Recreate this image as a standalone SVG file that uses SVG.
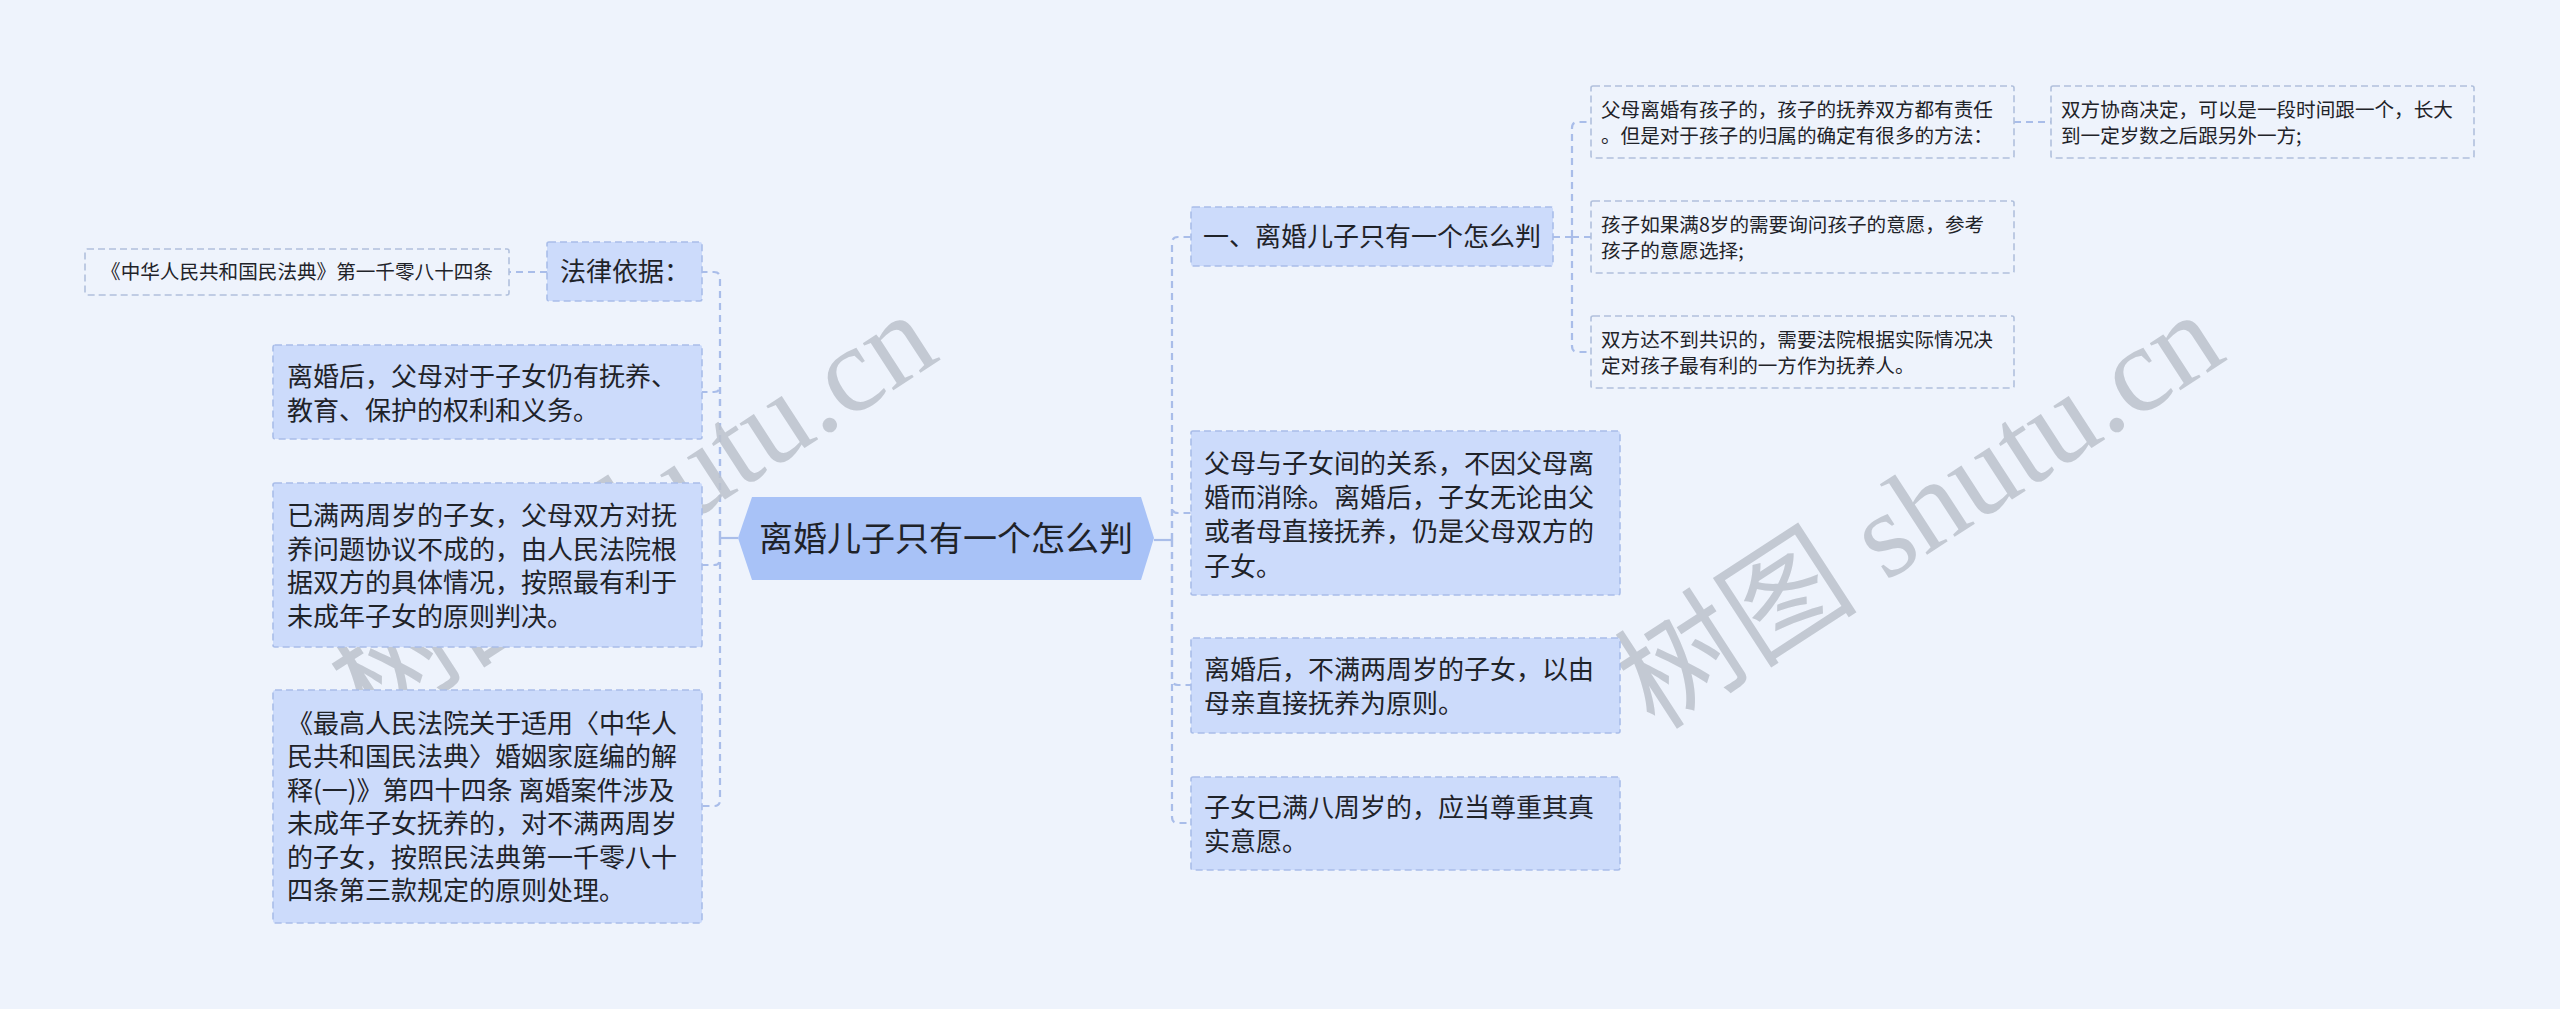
<svg xmlns="http://www.w3.org/2000/svg" width="2560" height="1009" viewBox="0 0 2560 1009">
<style>
.t{font-family:"Noto Sans CJK SC","Noto Sans",sans-serif;fill:#1f2329}
.m{font-size:26px}
.s{font-size:19.6px}
.box{fill:#ccdbfb;stroke:#a9bde9;stroke-width:1.6;stroke-dasharray:7 4}
.leaf{fill:none;stroke:#b1c0dc;stroke-width:1.6;stroke-dasharray:7 4}
.cn{fill:none;stroke:#a9bde9;stroke-width:2.2;stroke-dasharray:7 5}
.sol{fill:none;stroke:#a9bde9;stroke-width:2.2}
.wm{font-family:"Liberation Serif","Noto Sans CJK SC",serif;font-size:122px;fill:#bcc2cc;opacity:0.85}
</style>
<rect width="2560" height="1009" fill="#eef3fc"/>

<g id="connectors">
  <path class="sol" d="M738 538 H720"/>
  <path class="cn" d="M720 538 V278 Q720 272 714 272 H702"/>
  <path class="cn" d="M720 538 V386 Q720 392 714 392 H702"/>
  <path class="cn" d="M720 538 V559 Q720 565 714 565 H702"/>
  <path class="cn" d="M720 538 V800 Q720 806 714 806 H702"/>
  <path class="cn" d="M547 272 H509"/>
  <path class="sol" d="M1154 540 H1172"/>
  <path class="cn" d="M1172 540 V243 Q1172 237 1178 237 H1191"/>
  <path class="cn" d="M1172 540 V507 Q1172 513 1178 513 H1191"/>
  <path class="cn" d="M1172 540 V679 Q1172 685 1178 685 H1191"/>
  <path class="cn" d="M1172 540 V817 Q1172 823 1178 823 H1191"/>
  <path class="cn" d="M1553 237 H1572"/>
  <path class="cn" d="M1572 237 V128 Q1572 122 1578 122 H1591"/>
  <path class="cn" d="M1572 237 H1591"/>
  <path class="cn" d="M1572 237 V346 Q1572 352 1578 352 H1591"/>
  <path class="cn" d="M2014 122 H2051"/>
</g>

<g id="watermark">
  <text class="wm" text-anchor="middle" transform="translate(655 545) rotate(-33)">树图 shutu.cn</text>
  <text class="wm" text-anchor="middle" transform="translate(1942 545) rotate(-33)">树图 shutu.cn</text>
</g>

<g id="root">
  <polygon points="738,538 752,497 1141,497 1154,538 1141,580 752,580" fill="#a8c2f7"/>
  <text class="t" x="946" y="551" font-size="34" text-anchor="middle">离婚儿子只有一个怎么判</text>
</g>

<g id="law-basis">
  <rect class="box" x="547" y="242" width="155" height="59" rx="2"/>
  <text class="t m" x="560" y="281">法律依据：</text>
</g>
<g id="law-civil-code">
  <rect class="leaf" x="85" y="249" width="424" height="46" rx="2"/>
  <text class="t s" x="297" y="279" text-anchor="middle">《中华人民共和国民法典》第一千零八十四条</text>
</g>

<g id="left-1">
  <rect class="box" x="273" y="345" width="429" height="94" rx="2"/>
  <text class="t m" x="287"><tspan x="287" y="386">离婚后，父母对于子女仍有抚养、</tspan><tspan x="287" y="420">教育、保护的权利和义务。</tspan></text>
</g>
<g id="left-2">
  <rect class="box" x="273" y="483" width="429" height="164" rx="2"/>
  <text class="t m"><tspan x="287" y="525">已满两周岁的子女，父母双方对抚</tspan><tspan x="287" y="558.5">养问题协议不成的，由人民法院根</tspan><tspan x="287" y="592">据双方的具体情况，按照最有利于</tspan><tspan x="287" y="625.5">未成年子女的原则判决。</tspan></text>
</g>
<g id="left-3">
  <rect class="box" x="273" y="690" width="429" height="233" rx="2"/>
  <text class="t m"><tspan x="287" y="732.5">《最高人民法院关于适用〈中华人</tspan><tspan x="287" y="766">民共和国民法典〉婚姻家庭编的解</tspan><tspan x="287" y="799.5">释(一)》第四十四条 离婚案件涉及</tspan><tspan x="287" y="833">未成年子女抚养的，对不满两周岁</tspan><tspan x="287" y="866.5">的子女，按照民法典第一千零八十</tspan><tspan x="287" y="900">四条第三款规定的原则处理。</tspan></text>
</g>

<g id="right-1">
  <rect class="box" x="1191" y="207" width="362" height="59" rx="2"/>
  <text class="t m" x="1203" y="246">一、离婚儿子只有一个怎么判</text>
</g>
<g id="right-1-a">
  <rect class="leaf" x="1591" y="86" width="423" height="72" rx="2"/>
  <text class="t s"><tspan x="1601" y="116.5">父母离婚有孩子的，孩子的抚养双方都有责任</tspan><tspan x="1601" y="142.5">。但是对于孩子的归属的确定有很多的方法：</tspan></text>
</g>
<g id="right-1-a-1">
  <rect class="leaf" x="2051" y="86" width="423" height="72" rx="2"/>
  <text class="t s"><tspan x="2061" y="116.5">双方协商决定，可以是一段时间跟一个，长大</tspan><tspan x="2061" y="142.5">到一定岁数之后跟另外一方;</tspan></text>
</g>
<g id="right-1-b">
  <rect class="leaf" x="1591" y="201" width="423" height="72" rx="2"/>
  <text class="t s"><tspan x="1601" y="231.5">孩子如果满8岁的需要询问孩子的意愿，参考</tspan><tspan x="1601" y="257.5">孩子的意愿选择;</tspan></text>
</g>
<g id="right-1-c">
  <rect class="leaf" x="1591" y="316" width="423" height="72" rx="2"/>
  <text class="t s"><tspan x="1601" y="346.5">双方达不到共识的，需要法院根据实际情况决</tspan><tspan x="1601" y="372.5">定对孩子最有利的一方作为抚养人。</tspan></text>
</g>

<g id="right-2">
  <rect class="box" x="1191" y="431" width="429" height="164" rx="2"/>
  <text class="t m"><tspan x="1204" y="472.5">父母与子女间的关系，不因父母离</tspan><tspan x="1204" y="506.8">婚而消除。离婚后，子女无论由父</tspan><tspan x="1204" y="541.2">或者母直接抚养，仍是父母双方的</tspan><tspan x="1204" y="575.5">子女。</tspan></text>
</g>
<g id="right-3">
  <rect class="box" x="1191" y="638" width="429" height="95" rx="2"/>
  <text class="t m"><tspan x="1204" y="678.5">离婚后，不满两周岁的子女，以由</tspan><tspan x="1204" y="712.5">母亲直接抚养为原则。</tspan></text>
</g>
<g id="right-4">
  <rect class="box" x="1191" y="777" width="429" height="93" rx="2"/>
  <text class="t m"><tspan x="1204" y="816.5">子女已满八周岁的，应当尊重其真</tspan><tspan x="1204" y="850.5">实意愿。</tspan></text>
</g>
</svg>
